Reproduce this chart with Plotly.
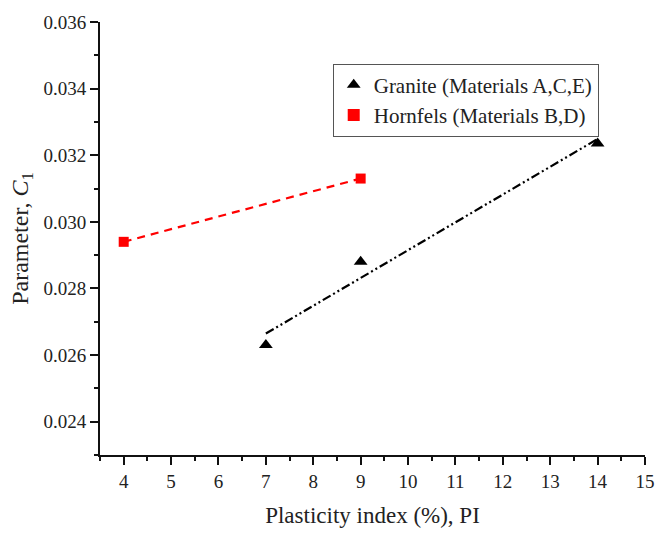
import numpy as np
import plotly.graph_objects as go

# Data
granite_pi = [7, 9, 14]
granite_c1 = [0.0263, 0.0288, 0.03235]
hornfels_pi = [4, 9]
hornfels_c1 = [0.0294, 0.0313]
granite_name = "Granite (Materials A,C,E)"
hornfels_name = "Hornfels (Materials B,D)"
x_ticks = list(range(4, 16))
y_ticks = [0.024, 0.026, 0.028, 0.030, 0.032, 0.034, 0.036]

FONT = "Liberation Serif, Times New Roman, serif"

# Linear fits
g_coef = np.polyfit(granite_pi, granite_c1, 1)
g_fx = [min(granite_pi), max(granite_pi)]
g_fy = list(np.polyval(g_coef, g_fx))
h_coef = np.polyfit(hornfels_pi, hornfels_c1, 1)
h_fx = [min(hornfels_pi), max(hornfels_pi)]
h_fy = list(np.polyval(h_coef, h_fx))

fig = go.Figure()
fig.add_trace(go.Scatter(x=g_fx, y=g_fy, mode="lines", showlegend=False,
                         line=dict(color="black", width=2.2, dash="9px,3px,2px,3px,2px,3px")))
fig.add_trace(go.Scatter(x=h_fx, y=h_fy, mode="lines", showlegend=False,
                         line=dict(color="#ff0000", width=2.2, dash="8px,6px")))
fig.add_trace(go.Scatter(x=granite_pi, y=granite_c1, mode="markers", name=granite_name,
                         marker=dict(symbol="triangle-up", size=12, color="black")))
fig.add_trace(go.Scatter(x=hornfels_pi, y=hornfels_c1, mode="markers", name=hornfels_name,
                         marker=dict(symbol="square", size=10, color="#ff0000")))

axis_common = dict(showgrid=False, zeroline=False, showline=True, linecolor="#111",
                   linewidth=2, tickcolor="#111", tickwidth=2)

fig.update_layout(
    width=667, height=536,
    margin=dict(l=100, r=12, t=20, b=68),
    plot_bgcolor="white", paper_bgcolor="white",
    font=dict(family=FONT, size=19, color="#222"),
    showlegend=True,
    legend=dict(x=0.427, y=0.904, xanchor="left", yanchor="top",
                bordercolor="#555", borderwidth=1, bgcolor="white",
                font=dict(family=FONT, size=21, color="#222"),
                itemsizing="constant", tracegroupgap=0),
    xaxis=dict(range=[3.5, 15], tickvals=x_ticks, ticks="outside", ticklen=8,
               minor=dict(dtick=0.5, ticks="outside", ticklen=4, tickcolor="#111", tickwidth=2),
               title=dict(text="Plasticity index (%), PI", font=dict(size=23), standoff=16),
               tickfont=dict(size=19), **axis_common),
    yaxis=dict(range=[0.023, 0.036], tickvals=y_ticks, tickformat=".3f", ticks="outside", ticklen=8,
               minor=dict(dtick=0.001, tick0=0.023, ticks="outside", ticklen=4, tickcolor="#111", tickwidth=2),
               title=dict(text="Parameter, <i>C</i><sub>1</sub>", font=dict(size=24), standoff=8),
               tickfont=dict(size=19), **axis_common),
    xaxis2=dict(range=[3.5, 15], overlaying="x", side="top", anchor="y", tickvals=x_ticks,
                showticklabels=False, ticks="inside", ticklen=8,
                minor=dict(dtick=0.5, ticks="inside", ticklen=4, tickcolor="#111", tickwidth=2),
                **axis_common),
    yaxis2=dict(range=[0.023, 0.036], overlaying="y", side="right", anchor="x", tickvals=y_ticks,
                showticklabels=False, ticks="inside", ticklen=8,
                minor=dict(dtick=0.001, tick0=0.023, ticks="inside", ticklen=4, tickcolor="#111", tickwidth=2),
                **axis_common),
)

fig.write_html("out.html")
